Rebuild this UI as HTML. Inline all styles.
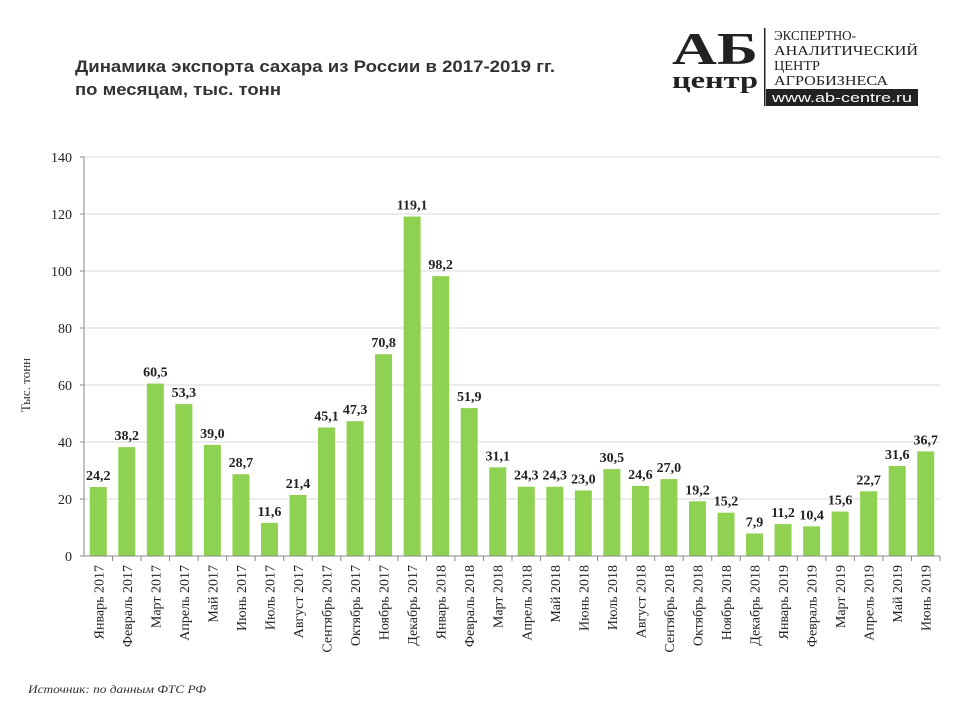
<!DOCTYPE html>
<html><head><meta charset="utf-8"><style>
body{margin:0;background:#fff;}
svg text{font-family:"Liberation Serif",serif;}
</style></head><body>
<svg width="960" height="720" xmlns="http://www.w3.org/2000/svg">
<text x="75" y="72" style="font-family:'Liberation Sans',sans-serif" font-size="17" font-weight="bold" fill="#333" textLength="480" lengthAdjust="spacingAndGlyphs">Динамика экспорта сахара из России в 2017-2019 гг.</text>
<text x="75" y="95" style="font-family:'Liberation Sans',sans-serif" font-size="17" font-weight="bold" fill="#333" textLength="206" lengthAdjust="spacingAndGlyphs">по месяцам, тыс. тонн</text>
<g>
<text x="672" y="64" font-size="46" font-weight="bold" fill="#222" textLength="86" lengthAdjust="spacingAndGlyphs" style="font-family:'Liberation Serif',serif">АБ</text>
<text x="672" y="88" font-size="24" font-weight="bold" fill="#222" textLength="86" lengthAdjust="spacingAndGlyphs" style="font-family:'Liberation Serif',serif">центр</text>
<rect x="764" y="28" width="1.5" height="78" fill="#222"/>
<text x="774" y="40" font-size="14" fill="#222" textLength="82" lengthAdjust="spacingAndGlyphs">ЭКСПЕРТНО-</text>
<text x="774" y="55" font-size="14" fill="#222" textLength="144" lengthAdjust="spacingAndGlyphs">АНАЛИТИЧЕСКИЙ</text>
<text x="774" y="70" font-size="14" fill="#222" textLength="46" lengthAdjust="spacingAndGlyphs">ЦЕНТР</text>
<text x="774" y="85" font-size="14" fill="#222" textLength="114" lengthAdjust="spacingAndGlyphs">АГРОБИЗНЕСА</text>
<rect x="766" y="89" width="152" height="17" fill="#222"/>
<text x="772" y="102" font-size="13" fill="#fff" textLength="140" lengthAdjust="spacingAndGlyphs" style="font-family:'Liberation Sans',sans-serif">www.ab-centre.ru</text>
</g>
<g id="grid"></g>
<g id="bars"></g>
<g id="axes"></g>
<text transform="translate(30,385) rotate(-90)" text-anchor="middle" font-size="13" fill="#333">Тыс. тонн</text>
<text x="28" y="693" font-size="12" font-style="italic" fill="#333" textLength="178" lengthAdjust="spacingAndGlyphs">Источник:  по данным ФТС РФ</text>
</svg>
<script>
const categories=["Январь 2017","Февраль 2017","Март 2017","Апрель 2017","Май 2017","Июнь 2017","Июль 2017","Август 2017","Сентябрь 2017","Октябрь 2017","Ноябрь 2017","Декабрь 2017","Январь 2018","Февраль 2018","Март 2018","Апрель 2018","Май 2018","Июнь 2018","Июль 2018","Август 2018","Сентябрь 2018","Октябрь 2018","Ноябрь 2018","Декабрь 2018","Январь 2019","Февраль 2019","Март 2019","Апрель 2019","Май 2019","Июнь 2019"];
const values=[24.2,38.2,60.5,53.3,39.0,28.7,11.6,21.4,45.1,47.3,70.8,119.1,98.2,51.9,31.1,24.3,24.3,23.0,30.5,24.6,27.0,19.2,15.2,7.9,11.2,10.4,15.6,22.7,31.6,36.7];
const yTicks=[0,20,40,60,80,100,120,140];
const NS="http://www.w3.org/2000/svg";
const X0=84,X1=940,Y0=556,Y1=157,YMAX=140;
const bw=(X1-X0)/categories.length;
const y=v=>Y0-(v/YMAX)*(Y0-Y1);
const x=i=>X0+bw*i;
function mk(tag,attrs,parent){const e=document.createElementNS(NS,tag);for(const k in attrs)e.setAttribute(k,attrs[k]);parent.appendChild(e);return e;}
const grid=document.getElementById('grid'),bars=document.getElementById('bars'),axes=document.getElementById('axes');
yTicks.forEach(t=>{
 if(t>0){const g=mk('line',{x1:X0,x2:X1,y1:y(t),y2:y(t),stroke:'#d9d9d9','stroke-width':1},grid);
 
 }
 const tk=mk('line',{x1:X0-4,x2:X0,y1:y(t),y2:y(t),stroke:'#888'},axes);
 
 
 const l=mk('text',{x:X0-12,y:y(t)+5,'text-anchor':'end','font-size':14,fill:'#222'},axes);
 l.textContent=t;
 
 
});
const ya=mk('line',{x1:X0,x2:X0,y1:Y1,y2:Y0,stroke:'#888'},axes);


const xa=mk('line',{x1:X0-4,x2:X1,y1:Y0,y2:Y0,stroke:'#888'},axes);


categories.forEach((c,i)=>{
 const cx=x(i)+bw/2;
 const r=mk('rect',{x:cx-8.5,y:y(values[i]),width:17,height:Y0-y(values[i]),fill:'#8fd150'},bars);
 
 
 const v=mk('text',{x:cx,y:y(values[i])-7,'text-anchor':'middle','font-size':14,'font-weight':'bold',fill:'#222'},bars);
 v.textContent=values[i].toFixed(1).replace('.',',');
 
 
 const tk=mk('line',{x1:x(i+1),x2:x(i+1),y1:Y0,y2:Y0+5,stroke:'#888'},axes);
 
 
 const l=mk('text',{transform:`translate(${cx+5},${Y0+9}) rotate(-90)`,'text-anchor':'end','font-size':14,fill:'#222'},axes);
 l.textContent=c;
 
 
});
</script>
</body></html>
